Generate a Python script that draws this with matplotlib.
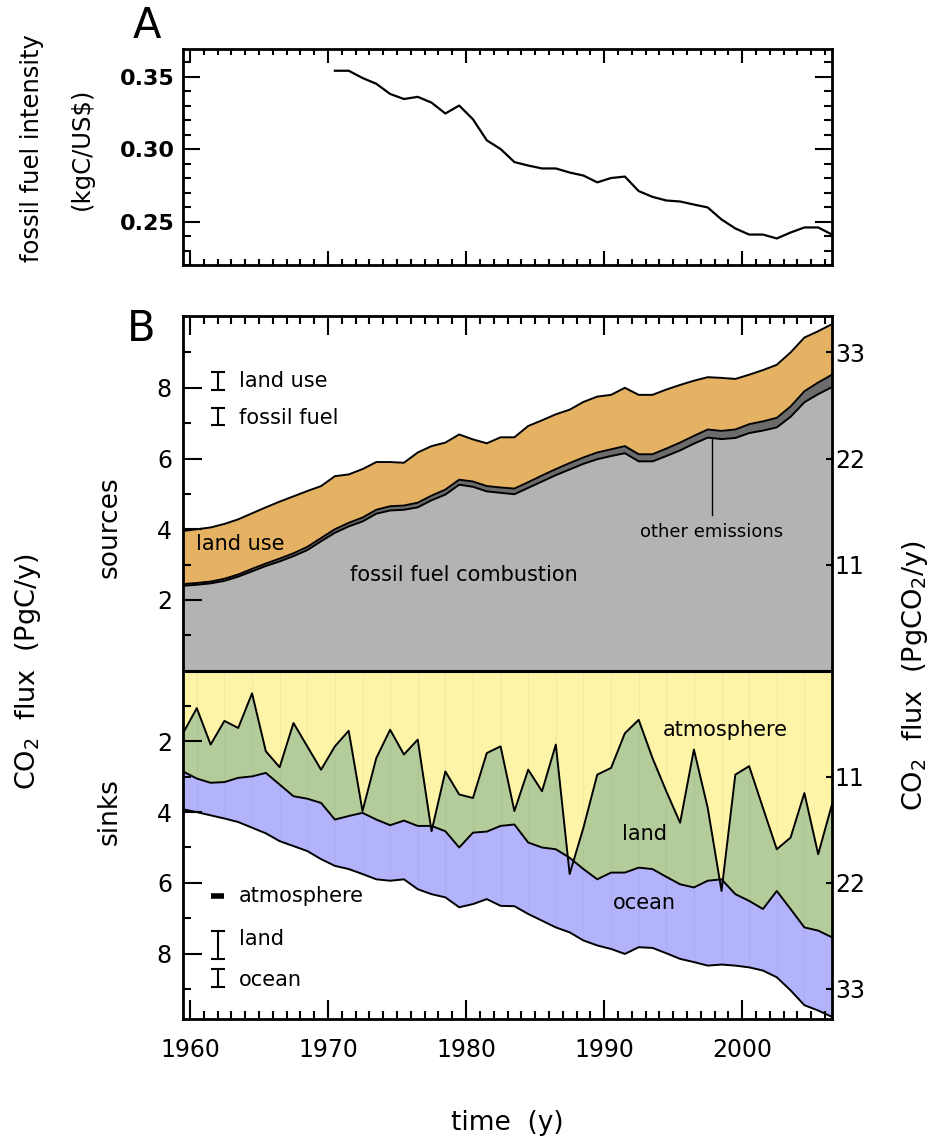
import numpy as np
import matplotlib
matplotlib.use("Agg")
import matplotlib.pyplot as plt
from matplotlib.ticker import MultipleLocator, FixedLocator, FuncFormatter

# ─────────────────────────────────────────────
# Data (PgC/y), one value per year
# ─────────────────────────────────────────────

years = list(range(1959, 2007))

fossil_fuel = [2.40, 2.43, 2.47, 2.54, 2.66, 2.81, 2.96, 3.09, 3.24, 3.41,
               3.66, 3.90, 4.08, 4.22, 4.44, 4.53, 4.55, 4.62, 4.82, 4.98,
               5.26, 5.20, 5.07, 5.03, 4.99, 5.17, 5.35, 5.53, 5.69, 5.85,
               5.98, 6.07, 6.15, 5.92, 5.92, 6.07, 6.23, 6.42, 6.59, 6.55,
               6.58, 6.72, 6.79, 6.88, 7.18, 7.59, 7.82, 8.02]
other_emissions = [0.05, 0.05, 0.05, 0.06, 0.06, 0.07, 0.07, 0.08, 0.08, 0.09,
                   0.09, 0.10, 0.10, 0.11, 0.11, 0.12, 0.12, 0.13, 0.13, 0.14,
                   0.14, 0.15, 0.15, 0.15, 0.16, 0.16, 0.17, 0.17, 0.18, 0.18,
                   0.19, 0.19, 0.20, 0.20, 0.20, 0.21, 0.22, 0.22, 0.23, 0.23,
                   0.24, 0.25, 0.26, 0.27, 0.29, 0.31, 0.33, 0.35]
land_use = [1.50, 1.52, 1.53, 1.55, 1.56, 1.57, 1.59, 1.61, 1.61, 1.58,
            1.47, 1.50, 1.37, 1.37, 1.35, 1.25, 1.21, 1.42, 1.40, 1.33,
            1.28, 1.19, 1.21, 1.42, 1.45, 1.59, 1.56, 1.55, 1.51, 1.57,
            1.58, 1.54, 1.65, 1.68, 1.68, 1.67, 1.63, 1.56, 1.48, 1.50,
            1.43, 1.40, 1.45, 1.50, 1.53, 1.52, 1.45, 1.43]

atmosphere = [1.77, 1.06, 2.09, 1.42, 1.62, 0.64, 2.28, 2.73, 1.48, 2.14,
              2.80, 2.14, 1.70, 3.97, 2.47, 1.67, 2.37, 1.95, 4.54, 2.85,
              3.50, 3.60, 2.33, 2.14, 3.97, 2.80, 3.41, 2.09, 5.75, 4.44,
              2.94, 2.75, 1.77, 1.39, 2.47, 3.41, 4.30, 2.23, 3.88, 6.23,
              2.94, 2.70, 3.88, 5.05, 4.72, 3.46, 5.19, 3.78]
land_sink = [1.08, 1.99, 1.08, 1.73, 1.41, 2.35, 0.61, 0.49, 2.07, 1.48,
             0.94, 2.07, 2.41, 0.05, 1.74, 2.70, 1.87, 2.44, -0.15, 1.69,
             1.50, 0.98, 2.22, 2.25, 0.38, 2.06, 1.59, 2.96, -0.46, 1.17,
             2.96, 2.96, 3.94, 4.18, 3.14, 2.42, 1.74, 3.90, 2.06, -0.33,
             3.38, 3.81, 2.86, 1.18, 2.02, 3.80, 2.16, 3.76]
ocean_sink = [1.07, 0.95, 0.92, 1.03, 1.25, 1.45, 1.71, 1.60, 1.41, 1.48,
              1.59, 1.31, 1.50, 1.73, 1.69, 1.57, 1.66, 1.79, 1.93, 1.87,
              1.69, 2.02, 1.91, 2.26, 2.31, 2.02, 2.07, 2.21, 2.11, 2.02,
              1.87, 2.16, 2.30, 2.25, 2.23, 2.16, 2.11, 2.11, 2.40, 2.41,
              2.02, 1.88, 1.74, 2.44, 2.30, 2.20, 2.26, 2.25]

intensity_years = list(range(1970, 2007))
ff_intensity = [0.354, 0.354, 0.349, 0.345, 0.338, 0.3345, 0.336, 0.332, 0.3245, 0.330,
                0.3205, 0.306, 0.300, 0.291, 0.2886, 0.2866, 0.2866, 0.2838, 0.2817, 0.277,
                0.280, 0.281, 0.271, 0.267, 0.2645, 0.2638, 0.2617, 0.2597, 0.2514, 0.2452,
                0.241, 0.241, 0.2383, 0.2424, 0.2459, 0.2459, 0.241]

# ─────────────────────────────────────────────
# Style
# ─────────────────────────────────────────────

C_FF    = "#b3b3b3"
C_OTHER = "#6c6c6c"
C_LU    = "#e5b264"
C_ATM   = "#fdf4a8"
C_LAND  = "#b4cc99"
C_OCEAN = "#b3b3fb"

plt.rcParams["font.family"] = "DejaVu Sans"

W, H = 935, 1138
fig = plt.figure(figsize=(W / 100, H / 100), dpi=100)


def box(l, t, r, b):
    return [l / W, 1 - b / H, (r - l) / W, (b - t) / H]


def px(x, y):
    return x / W, 1 - y / H


axA = fig.add_axes(box(183, 49, 832, 265))
axB = fig.add_axes(box(183, 316, 832, 1019))

# ─────────────────────────────────────────────
# A: fossil fuel intensity
# ─────────────────────────────────────────────

axA.plot(np.array(intensity_years) + 0.5, ff_intensity, color="k", lw=1.6)
axA.set_xlim(1959.5, 2006.5)
axA.set_ylim(0.220, 0.369)
axA.xaxis.set_major_locator(MultipleLocator(10))
axA.xaxis.set_minor_locator(MultipleLocator(1))
axA.yaxis.set_major_locator(FixedLocator([0.25, 0.30, 0.35]))
axA.yaxis.set_minor_locator(MultipleLocator(0.01))
axA.yaxis.set_major_formatter(FuncFormatter(lambda v, p: f"{v:.2f}"))
axA.tick_params(which="both", direction="in", top=True, right=True,
                labelbottom=False, width=1.5)
axA.tick_params(axis="y", which="major", length=12, labelsize=16, pad=6)
axA.tick_params(axis="y", which="minor", length=6)
axA.tick_params(axis="x", which="major", length=10)
axA.tick_params(axis="x", which="minor", length=4.5)
for lbl in axA.get_yticklabels():
    lbl.set_fontweight("semibold")
for s in axA.spines.values():
    s.set_linewidth(2)

# ─────────────────────────────────────────────
# B: sources (up) and sinks (down)
# ─────────────────────────────────────────────

t = np.array(years) + 0.5
ff = np.array(fossil_fuel)
ff_top = ff + np.array(other_emissions)
src_top = ff_top + np.array(land_use)

atm = np.array(atmosphere)
atm_land = atm + np.array(land_sink)
sink_tot = atm_land + np.array(ocean_sink)

axB.fill_between(t, 0, ff, color=C_FF, lw=0)
axB.fill_between(t, ff, ff_top, color=C_OTHER, lw=0)
axB.fill_between(t, ff_top, src_top, color=C_LU, lw=0)
for y in (ff, ff_top, src_top):
    axB.plot(t, y, color="k", lw=1.4)

axB.fill_between(t, 0, -atm, color=C_ATM, lw=0)
axB.fill_between(t, -atm, -atm_land, color=C_LAND, lw=0)
axB.fill_between(t, -atm_land, -sink_tot, color=C_OCEAN, lw=0)
axB.vlines(t[1::2], -sink_tot[1::2], 0, color="#888888", lw=0.8, alpha=0.10)
for y in (atm, atm_land, sink_tot):
    axB.plot(t, -y, color="k", lw=1.4)
axB.axhline(0, color="k", lw=2.2)

axB.set_xlim(1959.5, 2006.5)
axB.set_ylim(-9.85, 10.03)
axB.xaxis.set_major_locator(MultipleLocator(10))
axB.xaxis.set_minor_locator(MultipleLocator(1))
axB.yaxis.set_major_locator(FixedLocator([-8, -6, -4, -2, 2, 4, 6, 8]))
axB.yaxis.set_minor_locator(FixedLocator([-9, -7, -5, -3, -1, 1, 3, 5, 7, 9]))
axB.yaxis.set_major_formatter(FuncFormatter(lambda v, p: f"{abs(v):.0f}"))
axB.tick_params(which="both", direction="in", top=True, right=True, width=1.5)
axB.tick_params(which="major", length=14)
axB.tick_params(which="minor", length=6)
axB.tick_params(axis="y", labelsize=17, pad=8)
axB.tick_params(axis="x", labelsize=17, pad=14)
for s in axB.spines.values():
    s.set_linewidth(2)

axR = axB.twinx()
axR.set_ylim(axB.get_ylim())
axR.yaxis.set_major_locator(FixedLocator([-9, -6, -3, 3, 6, 9]))
axR.yaxis.set_major_formatter(FuncFormatter(lambda v, p: f"{abs(v) * 44 / 12:.0f}"))
axR.tick_params(axis="y", direction="in", length=4, width=1.5, labelsize=17, pad=2)
for s in axR.spines.values():
    s.set_visible(False)

# area labels
axB.text(1960.45, 3.58, "land use", fontsize=15, ha="left", va="center")
axB.text(1979.85, 2.7, "fossil fuel combustion", fontsize=15, ha="center", va="center")
x_oe = 1997.8
axB.plot([x_oe, x_oe], [4.4, np.interp(x_oe, t, ff)], color="k", lw=1)
axB.text(x_oe, 3.92, "other emissions", fontsize=13, ha="center", va="center")
axB.text(1998.8, -1.69, "atmosphere", fontsize=15, ha="center", va="center")
axB.text(1992.9, -4.62, "land", fontsize=15, ha="center", va="center")
axB.text(1992.9, -6.56, "ocean", fontsize=15, ha="center", va="center")

# uncertainty keys
ebar = dict(fmt="none", ecolor="k", elinewidth=1.5, capsize=5, capthick=1.5)
axB.errorbar([1962.0], [8.2], yerr=[0.25], **ebar)
axB.errorbar([1962.0], [7.2], yerr=[0.24], **ebar)
axB.plot([1961.55, 1962.45], [-6.37, -6.37], color="k", lw=4, solid_capstyle="butt")
axB.errorbar([1962.0], [-7.75], yerr=[0.39], **ebar)
axB.errorbar([1962.0], [-8.7], yerr=[0.25], **ebar)
axB.text(1963.55, 8.2, "land use", fontsize=15, ha="left", va="center")
axB.text(1963.55, 7.15, "fossil fuel", fontsize=15, ha="left", va="center")
axB.text(1963.55, -6.37, "atmosphere", fontsize=15, ha="left", va="center")
axB.text(1963.55, -7.6, "land", fontsize=15, ha="left", va="center")
axB.text(1963.55, -8.76, "ocean", fontsize=15, ha="left", va="center")

# ─────────────────────────────────────────────
# Figure-level labels
# ─────────────────────────────────────────────

fig.text(*px(147, 26), "A", fontsize=30, ha="center", va="center")
fig.text(*px(141, 329), "B", fontsize=30, ha="center", va="center")
fig.text(*px(32, 148), "fossil fuel intensity", fontsize=17.5, rotation=90,
         ha="center", va="center")
fig.text(*px(82, 149), "(kgC/US$)", fontsize=17.5, rotation=90,
         ha="center", va="center")
fig.text(*px(110, 527), "sources", fontsize=19, rotation=90, ha="center", va="center")
fig.text(*px(110, 812), "sinks", fontsize=19, rotation=90, ha="center", va="center")
fig.text(*px(28, 672), "CO$_2$  flux  (PgC/y)", fontsize=19.5, rotation=90,
         ha="center", va="center")
fig.text(*px(915, 675), "CO$_2$  flux  (PgCO$_2$/y)", fontsize=19.5, rotation=90,
         ha="center", va="center")
fig.text(*px(507, 1123), "time  (y)", fontsize=19, ha="center", va="center")

fig.savefig("out.png", dpi=100)
